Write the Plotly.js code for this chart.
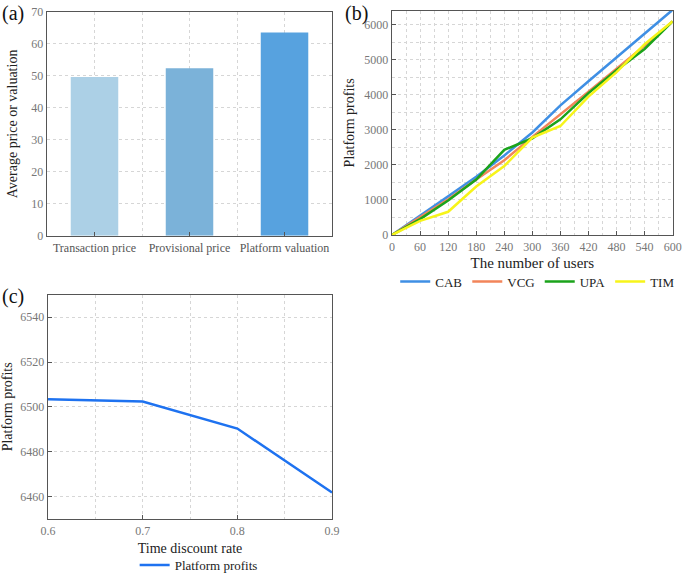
<!DOCTYPE html>
<html>
<head>
<meta charset="utf-8">
<script src="https://cdn.plot.ly/plotly-3.0.1.min.js"></script>
<style>
  html, body { margin: 0; padding: 0; background: #fff; }
  #chart { width: 685px; height: 580px; }
</style>
</head>
<body>
<div id="chart"></div>
<script>
// (a) average price / valuation
var barCats = ['Transaction price', 'Provisional price', 'Platform valuation'];
var barVals = [49.7, 52.4, 63.6];
var barColors = ['#acd0e6', '#7bb2d9', '#57a2df'];

// (b) platform profits vs number of users
var users = [0, 60, 120, 180, 240, 300, 360, 420, 480, 540, 600];
var cab = [0, 540, 1100, 1660, 2270, 2925, 3700, 4390, 5065, 5740, 6430];
var vcg = [0, 500, 1020, 1580, 2130, 2800, 3440, 4090, 4750, 5400, 6100];
var upa = [0, 450, 980, 1580, 2430, 2760, 3300, 4050, 4700, 5310, 6100];
var tim = [0, 400, 660, 1380, 1970, 2780, 3110, 3950, 4650, 5450, 6100];

// (c) platform profits vs time discount rate
var rates = [0.6, 0.7, 0.8, 0.9];
var profits = [6503.4, 6502.4, 6490.3, 6461.8];

var serif = 'Liberation Serif';
var tickFont = {family: serif, size: 12, color: '#777'};
var titleFont = {family: serif, size: 15, color: '#222'};

function axisBase(extra) {
  var a = {
    showline: true, mirror: true, linecolor: '#555', linewidth: 1.3,
    ticks: 'inside', ticklen: 4, tickcolor: '#555',
    tickfont: tickFont, ticklabeloverflow: 'allow',
    showgrid: true, gridcolor: '#d6d6d6', griddash: 'dot', gridwidth: 1,
    zeroline: false
  };
  for (var k in extra) a[k] = extra[k];
  return a;
}

var traces = [
  {
    type: 'bar', x: [0, 1, 2], y: barVals, width: 0.5,
    marker: {color: barColors}, xaxis: 'x', yaxis: 'y', showlegend: false
  },
  {x: users, y: cab, name: 'CAB', mode: 'lines', line: {color: '#3f8fe4', width: 2.5}, xaxis: 'x2', yaxis: 'y2', legend: 'legend'},
  {x: users, y: vcg, name: 'VCG', mode: 'lines', line: {color: '#f2855a', width: 2.5}, xaxis: 'x2', yaxis: 'y2', legend: 'legend'},
  {x: users, y: upa, name: 'UPA', mode: 'lines', line: {color: '#1ba31b', width: 2.5}, xaxis: 'x2', yaxis: 'y2', legend: 'legend'},
  {x: users, y: tim, name: 'TIM', mode: 'lines', line: {color: '#f7f41a', width: 2.5}, xaxis: 'x2', yaxis: 'y2', legend: 'legend'},
  {x: rates, y: profits, name: 'Platform profits', mode: 'lines', line: {color: '#1e72f0', width: 2.5}, xaxis: 'x3', yaxis: 'y3', legend: 'legend2'}
];

var layout = {
  width: 685, height: 580,
  margin: {l: 0, r: 0, t: 0, b: 0},
  paper_bgcolor: '#fff', plot_bgcolor: '#fff',
  font: {family: serif},
  xaxis: axisBase({
    domain: [0.0686, 0.4847], anchor: 'y',
    range: [-0.5, 2.5], tickvals: [0, 1, 2], ticktext: barCats,
    tickfont: {family: serif, size: 12, color: '#555'}, tickangle: 0,
    showgrid: false,
    minor: {dtick: 0.5, tick0: 0, showgrid: true, gridcolor: '#d6d6d6', griddash: 'dot', ticks: ''}
  }),
  yaxis: axisBase({
    domain: [0.5862, 0.979], anchor: 'x',
    range: [0, 70], dtick: 10, ticks: '',
    title: {text: 'Average price or valuation', font: {family: serif, size: 14, color: '#222'}, standoff: 10}
  }),
  xaxis2: axisBase({
    domain: [0.5723, 0.982], anchor: 'y2',
    range: [0, 600], dtick: 60,
    minor: {dtick: 30, showgrid: true, gridcolor: '#d6d6d6', griddash: 'dot', ticks: ''},
    title: {text: 'The number of users', font: titleFont, standoff: 5}
  }),
  yaxis2: axisBase({
    domain: [0.5879, 0.981], anchor: 'x2',
    range: [0, 6400], dtick: 1000,
    minor: {dtick: 500, showgrid: true, gridcolor: '#d6d6d6', griddash: 'dot', ticks: ''},
    title: {text: 'Platform profits', font: {family: serif, size: 14, color: '#222'}, standoff: 6}
  }),
  xaxis3: axisBase({
    domain: [0.0701, 0.4847], anchor: 'y3',
    range: [0.6, 0.9], dtick: 0.1, tickformat: '.1f',
    minor: {dtick: 0.05, showgrid: true, gridcolor: '#d6d6d6', griddash: 'dot', ticks: ''},
    title: {text: 'Time discount rate', font: {family: serif, size: 14, color: '#222'}, standoff: 6}
  }),
  yaxis3: axisBase({
    domain: [0.0897, 0.4828], anchor: 'x3',
    range: [6450, 6550], dtick: 20, tick0: 6460,
    title: {text: 'Platform profits', font: {family: serif, size: 14, color: '#222'}, standoff: 8}
  }),
  legend: {
    orientation: 'h', x: 0.785, xanchor: 'center', y: 0.506, yanchor: 'middle',
    font: {family: serif, size: 13, color: '#222'}, bgcolor: 'rgba(0,0,0,0)',
    itemwidth: 30, tracegroupgap: 0
  },
  legend2: {
    orientation: 'h', x: 0.29, xanchor: 'center', y: 0.008, yanchor: 'middle',
    font: {family: serif, size: 13, color: '#222'}, bgcolor: 'rgba(0,0,0,0)'
  },
  annotations: [
    {text: '(a)', x: 0, y: 1.0, xref: 'paper', yref: 'paper', xanchor: 'left', yanchor: 'top', showarrow: false, font: {family: serif, size: 20, color: '#111'}},
    {text: '(b)', x: 0.501, y: 1.0, xref: 'paper', yref: 'paper', xanchor: 'left', yanchor: 'top', showarrow: false, font: {family: serif, size: 20, color: '#111'}},
    {text: '(c)', x: 0, y: 0.503, xref: 'paper', yref: 'paper', xanchor: 'left', yanchor: 'top', showarrow: false, font: {family: serif, size: 20, color: '#111'}}
  ]
};

Plotly.newPlot('chart', traces, layout, {displayModeBar: false, staticPlot: true});
</script>
</body>
</html>
